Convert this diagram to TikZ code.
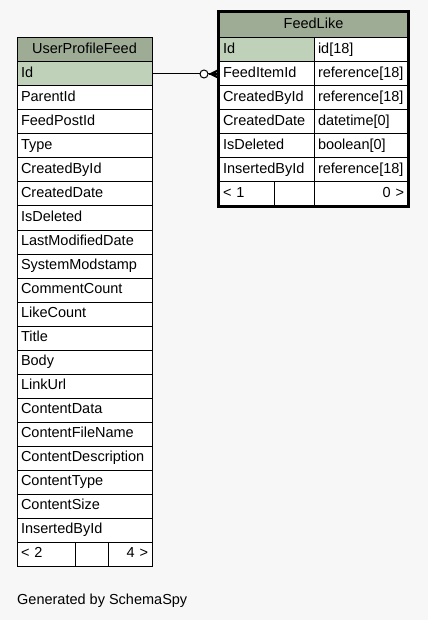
\documentclass[tikz,border=0pt]{standalone}
\usepackage{fontspec}
\setmainfont{Liberation Sans}
\usetikzlibrary{calc}
\definecolor{pagebg}{HTML}{F7F7F7}
\definecolor{headbg}{HTML}{9EAC96}
\definecolor{keybg}{HTML}{BFD1B9}
\tikzset{tcell/.style={draw, line width=1pt, fill=white, minimum height=24pt,
    inner xsep=4pt, inner ysep=0pt, text width=#1, text height=10.5pt, text depth=3pt,
    align=left, font=\fontsize{14.5}{17}\selectfont}}
\tikzset{thead/.style={tcell=#1, fill=headbg, align=center}}
\tikzset{tkey/.style={tcell=#1, fill=keybg}}
\tikzset{tnext/.style={tcell=#1, align=right}}

\begin{document}
\begin{tikzpicture}[x=1pt, y=-1pt]
          \fill[pagebg] (0,0) rectangle (428,620);
          \useasboundingbox (0,0) rectangle (428,620);

          % UserProfileFeed
          \node[thead=127pt] (UserProfileFeed) at (84.5,50) {UserProfileFeed};
          \node[tkey=127pt] (UPFId) at (84.5,74) {Id};
          \node[tcell=127pt] (UPFParentId) at (84.5,98) {ParentId};
          \node[tcell=127pt] (UPFFeedPostId) at (84.5,122) {FeedPostId};
          \node[tcell=127pt] (UPFType) at (84.5,146) {Type};
          \node[tcell=127pt] (UPFCreatedById) at (84.5,170) {CreatedById};
          \node[tcell=127pt] (UPFCreatedDate) at (84.5,194) {CreatedDate};
          \node[tcell=127pt] (UPFIsDeleted) at (84.5,218) {IsDeleted};
          \node[tcell=127pt] (UPFLastModifiedDate) at (84.5,242) {LastModifiedDate};
          \node[tcell=127pt] (UPFSystemModstamp) at (84.5,266) {SystemModstamp};
          \node[tcell=127pt] (UPFCommentCount) at (84.5,290) {CommentCount};
          \node[tcell=127pt] (UPFLikeCount) at (84.5,314) {LikeCount};
          \node[tcell=127pt] (UPFTitle) at (84.5,338) {Title};
          \node[tcell=127pt] (UPFBody) at (84.5,362) {Body};
          \node[tcell=127pt] (UPFLinkUrl) at (84.5,386) {LinkUrl};
          \node[tcell=127pt] (UPFContentData) at (84.5,410) {ContentData};
          \node[tcell=127pt] (UPFContentFileName) at (84.5,434) {ContentFileName};
          \node[tcell=127pt] (UPFContentDescription) at (84.5,458) {ContentDescription};
          \node[tcell=127pt] (UPFContentType) at (84.5,482) {ContentType};
          \node[tcell=127pt] (UPFContentSize) at (84.5,506) {ContentSize};
          \node[tcell=127pt] (UPFInsertedById) at (84.5,530) {InsertedById};
          \node[tcell=50pt] (UPFPrev) at (46,554) {< 2};
          \node[tcell=25pt] (UPFMid) at (91.5,554) {};
          \node[tnext=36pt] (UPFNext) at (130,554) {4 >};

          % FeedLike
          \node[thead=181pt, minimum height=26pt] (FeedLike) at (313.5,25) {FeedLike};
          \node[tkey=87pt] (FLId) at (266.5,50) {Id};
          \node[tcell=86pt] (FLIdType) at (361,50) {id[18]};
          \node[tcell=87pt] (FLFeedItemId) at (266.5,74) {FeedItemId};
          \node[tcell=86pt] (FLFeedItemIdType) at (361,74) {reference[18]};
          \node[tcell=87pt] (FLCreatedById) at (266.5,98) {CreatedById};
          \node[tcell=86pt] (FLCreatedByIdType) at (361,98) {reference[18]};
          \node[tcell=87pt] (FLCreatedDate) at (266.5,122) {CreatedDate};
          \node[tcell=86pt] (FLCreatedDateType) at (361,122) {datetime[0]};
          \node[tcell=87pt] (FLIsDeleted) at (266.5,146) {IsDeleted};
          \node[tcell=86pt] (FLIsDeletedType) at (361,146) {boolean[0]};
          \node[tcell=87pt] (FLInsertedById) at (266.5,170) {InsertedById};
          \node[tcell=86pt] (FLInsertedByIdType) at (361,170) {reference[18]};
          \node[tcell=47pt] (FLPrev) at (246.5,194) {< 1};
          \node[tcell=32pt] (FLMid) at (294,194) {};
          \node[tnext=86pt] (FLNext) at (361,194) {0 >};
          \draw[line width=2.5pt] (FeedLike.north west) rectangle (FLNext.south east);

          % FeedLike.FeedItemId -> UserProfileFeed.Id
          \draw[line width=1pt] (UPFId.east) to (FLFeedItemId.west);
          \draw[line width=1pt, fill=white] ($(FLFeedItemId.west)+(-14.5,0)$) circle[radius=4pt];
          \fill ($(FLFeedItemId.west)+(-10,0)$) -- ($(FLFeedItemId.west)+(0,-5)$)
                -- ($(FLFeedItemId.west)+(0,-2.5)$) -- ($(FLFeedItemId.west)+(-5,0)$)
                -- ($(FLFeedItemId.west)+(0,2.5)$) -- ($(FLFeedItemId.west)+(0,5)$) -- cycle;
          \draw[line width=1.5pt] ($(FLFeedItemId.west)+(-10,0)$) -- (FLFeedItemId.west);

          \node[anchor=west, inner sep=0pt, font=\fontsize{14.5}{17}\selectfont] (Credit) at (17,601) {Generated by SchemaSpy};
        \end{tikzpicture}
\end{document}
